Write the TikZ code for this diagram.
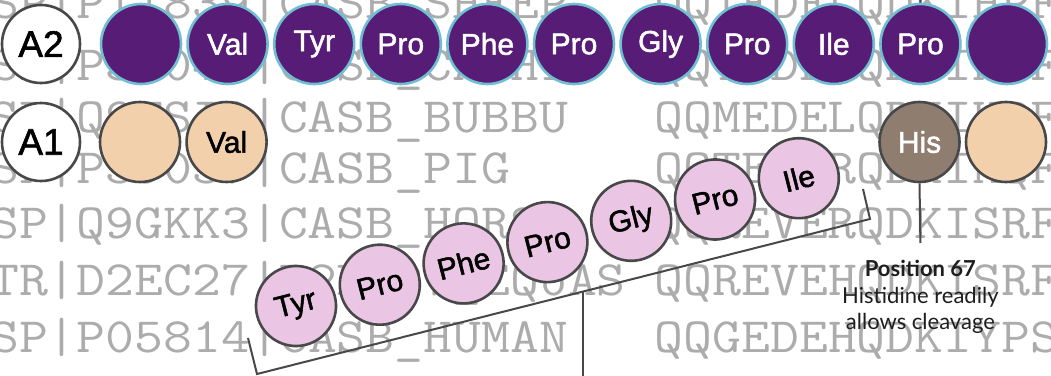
\documentclass[tikz,border=0pt]{standalone}
\usepackage{graphicx}
\usepackage{fontspec}
\setmainfont{Liberation Sans}
\newfontfamily\resfont{Liberation Sans}[FakeBold=1.6]
\newfontfamily\labfont{Lato}
\usetikzlibrary{calc}
\definecolor{bgtext}{RGB}{172,172,172}
\definecolor{purp}{RGB}{86,28,118}
\definecolor{lblue}{RGB}{112,190,210}
\definecolor{tanc}{RGB}{243,208,172}
\definecolor{hisc}{RGB}{143,125,112}
\definecolor{pinkc}{RGB}{234,198,228}
\definecolor{dgray}{RGB}{72,72,72}
\definecolor{ltext}{RGB}{30,30,30}
\newcommand{\bgrow}[1]{\scalebox{1}[0.88]{#1}}
\begin{document}
\begin{tikzpicture}[x=1pt,y=-1pt,
  res/.style={circle,minimum size=80pt,inner sep=0pt,line width=2.6pt,font=\resfont\fontsize{30}{36}\selectfont},
  a2res/.style={res,fill=purp,draw=lblue,text=white},
  a1res/.style={res,fill=tanc,draw=dgray,text=black},
  hisres/.style={res,fill=hisc,draw=dgray,text=white},
  pinkres/.style={res,fill=pinkc,draw=dgray,text=black,rotate=14.3},
  rowlab/.style={circle,minimum size=78pt,inner sep=0pt,fill=white,draw=dgray,line width=2.6pt,font=\resfont\fontsize{37}{40}\selectfont},
  bg/.style={anchor=base west,inner sep=0pt,text=bgtext,font=\ttfamily\fontsize{56.1}{58}\selectfont},
  brk/.style={draw=dgray,line width=2pt},
  note/.style={align=center,text=ltext,font=\labfont\fontsize{22}{26.5}\selectfont},
]
\fill[white] (0,0) rectangle (1051,375);
\useasboundingbox (0,0) rectangle (1051,375);
\clip (0,0) rectangle (1051,375);
% background alignment text
\node[bg] (r0) at (-10,18)  {\bgrow{SP|P11839|CASB\_SHEEP~~~QQTEDELQDKIHPF}};
\node[bg] (r1) at (-10,80)  {\bgrow{SP|P33048|CASB\_CAPHI~~~QQTEDELQDKIHPF}};
\node[bg] (r2) at (-10,132) {\bgrow{SP|Q9TSI0|CASB\_BUBBU~~~QQMEDELQDKIHPF}};
\node[bg] (r3) at (-10,183) {\bgrow{SP|P39037|CASB\_PIG~~~~~QQTEDERQDKIKQF}};
\node[bg] (r4) at (-10,238) {\bgrow{SP|Q9GKK3|CASB\_HORSE~~~QQREVERQDKISRF}};
\node[bg] (r5) at (-10,295) {\bgrow{TR|D2EC27|D2EC27\_EQUAS~QQREVEHQDKISRF}};
\node[bg] (r6) at (-10,352) {\bgrow{SP|P05814|CASB\_HUMAN~~~QQGEDEHQDKIYPS}};
% row labels
\node[rowlab] (la2) at (41,44) {A2};
\node[rowlab] (la1) at (41,142) {A1};
% A2 row
\foreach \i/\t in {1/,2/Val,3/Tyr,4/Pro,5/Phe,6/Pro,7/Gly,8/Pro,9/Ile,10/Pro,11/}
  \node[a2res] (a2-\i) at ({141+86.6*(\i-1)},44) {\t};
% A1 row
\node[a1res] (a1-1) at (140,142) {};
\node[a1res] (a1-2) at (226.6,142) {Val};
\node[hisres] (his) at (919.5,142) {His};
\node[a1res] (a1-11) at (1006,142) {};
% cleaved strip
\coordinate (s0) at (296,306);
\foreach \k/\t in {0/Tyr,1/Pro,2/Phe,3/Pro,4/Gly,5/Pro,6/Ile}
  \node[pinkres] (pk-\k) at ($(s0)+\k*(83.8,-21.3)$) {\t};
% bracket
\coordinate (b1) at (248,338);
\coordinate (b2) at (257,374);
\coordinate (b3) at (870,219);
\coordinate (b4) at (863,189);
\coordinate (bm) at (583,291.6);
\coordinate (bmb) at (583,376);
\draw[brk,line join=miter] (b1) -- (b2) -- (b3) -- (b4);
\draw[brk] (bm) -- (bmb);
% position marker
\coordinate (ptop) at (920.4,-1);
\coordinate (pbot) at (920.4,243);
\draw[brk] (ptop) -- (a2-10.north);
\draw[brk] (his.south) -- (pbot);
\node[note] (pos) at (920.4,297) {{\bfseries Position 67}\\Histidine readily\\allows cleavage};
\end{tikzpicture}
\end{document}
